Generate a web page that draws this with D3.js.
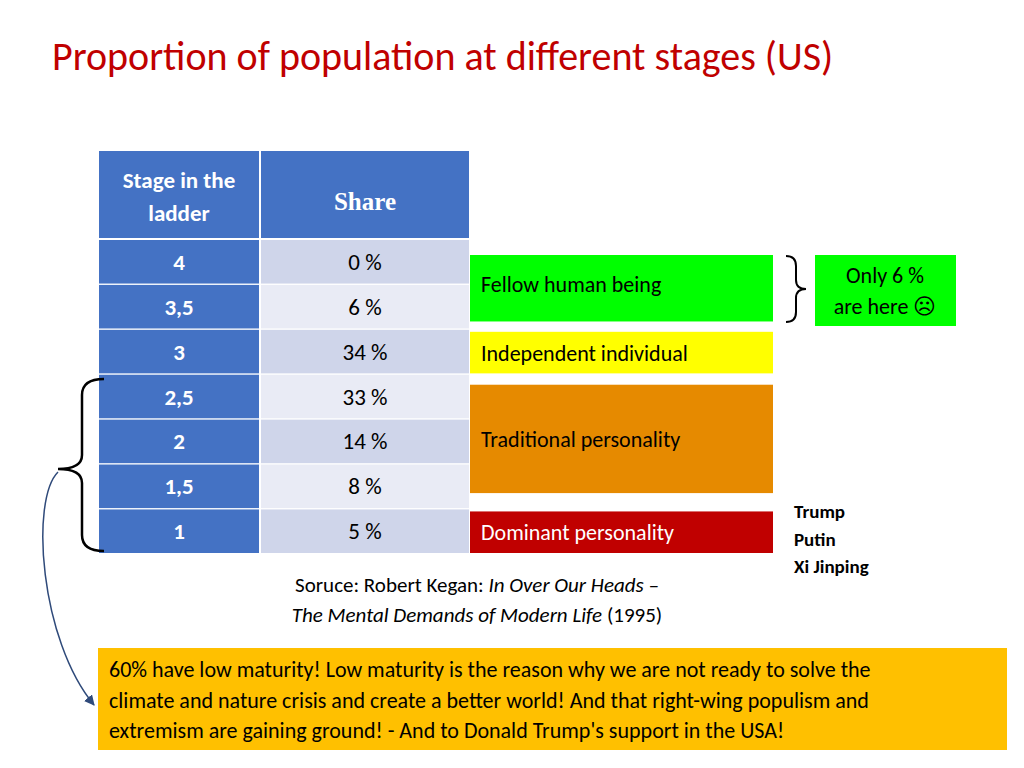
<!DOCTYPE html>
<html><head><meta charset="utf-8">
<script src="https://cdn.jsdelivr.net/npm/d3@7"></script>
<style>body{margin:0;background:#fff}svg{font-family:Carlito,Lato,"Open Sans",sans-serif}</style>
</head><body>
<svg id="c" width="1024" height="768"></svg>
<script>
var stages = ["4", "3,5", "3", "2,5", "2", "1,5", "1"];
var shares = [0, 6, 34, 33, 14, 8, 5];
var groups = [
  {name: "Fellow human being", from: 0, to: 1, color: "#00ff00"},
  {name: "Independent individual", from: 2, to: 2, color: "#ffff00"},
  {name: "Traditional personality", from: 3, to: 5, color: "#e68a00"},
  {name: "Dominant personality", from: 6, to: 6, color: "#c00000"}
];
var leaders = ["Trump", "Putin", "Xi Jinping"];

var svg = d3.select("#c");

svg.append("text").attr("x", 52).attr("y", 70).attr("fill", "#c00000")
    .style("font-size", "40px").text("Proportion of population at different stages (US)");

var y = d3.scaleBand().domain(d3.range(stages.length)).range([240, 553]).paddingInner(0.03);

// header
svg.append("rect").attr("x", 99).attr("y", 151).attr("width", 160).attr("height", 87).attr("fill", "#4472c4");
svg.append("rect").attr("x", 261).attr("y", 151).attr("width", 208).attr("height", 87).attr("fill", "#4472c4");
svg.append("text").attr("x", 179).attr("y", 188).attr("text-anchor", "middle").attr("fill", "#fff")
    .style("font-size", "23px").style("font-weight", "bold").text("Stage in the");
svg.append("text").attr("x", 179).attr("y", 221).attr("text-anchor", "middle").attr("fill", "#fff")
    .style("font-size", "23px").style("font-weight", "bold").text("ladder");
svg.append("text").attr("x", 365).attr("y", 210).attr("text-anchor", "middle").attr("fill", "#fff")
    .style("font-family", "'Liberation Serif',serif").style("font-size", "25px").style("font-weight", "bold").text("Share");

var rows = svg.selectAll("g.row").data(stages).join("g").attr("class", "row");
rows.append("rect").attr("x", 99).attr("y", (d, i) => y(i)).attr("width", 160).attr("height", y.bandwidth()).attr("fill", "#4472c4");
rows.append("rect").attr("x", 261).attr("y", (d, i) => y(i)).attr("width", 208).attr("height", y.bandwidth())
    .attr("fill", (d, i) => i % 2 ? "#e9ebf5" : "#cfd5ea");
rows.append("text").attr("x", 179).attr("y", (d, i) => y(i) + y.bandwidth() / 2 + 8).attr("text-anchor", "middle")
    .attr("fill", "#fff").style("font-size", "23px").style("font-weight", "bold").text(d => d);
rows.append("text").attr("x", 365).attr("y", (d, i) => y(i) + y.bandwidth() / 2 + 8).attr("text-anchor", "middle")
    .attr("fill", "#000").style("font-size", "23px").text((d, i) => shares[i] + " %");

// stage groups
var gg = svg.selectAll("g.grp").data(groups).join("g").attr("class", "grp");
var inset = [15, 2, 10, 2];
gg.append("rect").attr("x", 470).attr("width", 303)
    .attr("y", (d, i) => y(d.from) + inset[i])
    .attr("height", (d, i) => y(d.to) + y.bandwidth() - y(d.from) - inset[i] - (i == 0 ? 7 : i == 2 ? 15 : 0))
    .attr("fill", d => d.color);
gg.append("text").attr("x", 481)
    .attr("y", (d, i) => [292, 361, 447, 540][i])
    .attr("fill", d => d.color == "#c00000" ? "#fff" : "#000").style("font-size", "22px").text(d => d.name);

// right brace
svg.append("path").attr("d", "M786,256 Q796,256 796,266 L796,280 Q796,289 806,289 Q796,289 796,298 L796,312 Q796,322 786,322")
    .attr("fill", "none").attr("stroke", "#000").attr("stroke-width", 2);
svg.append("rect").attr("x", 815).attr("y", 255).attr("width", 141).attr("height", 71).attr("fill", "#00ff00");
svg.append("text").attr("x", 885).attr("y", 283).attr("text-anchor", "middle").style("font-size", "22px").text("Only 6 %");
svg.append("text").attr("x", 885).attr("y", 314).attr("text-anchor", "middle").style("font-size", "22px").text("are here ☹");

svg.selectAll("text.lead").data(leaders).join("text").attr("class", "lead")
    .attr("x", 794).attr("y", (d, i) => 518 + i * 27.5).style("font-size", "19px").style("font-weight", "bold").text(d => d);

// left brace
svg.append("path").attr("d", "M104,379 Q82,379 82,395 L82,455 Q82,469 58,469 Q82,469 82,483 L82,535 Q82,551 104,551")
    .attr("fill", "none").attr("stroke", "#000").attr("stroke-width", 2.5);

// source
var s1 = svg.append("text").attr("x", 477).attr("y", 592).attr("text-anchor", "middle").style("font-size", "21px");
s1.append("tspan").text("Soruce: Robert Kegan: ");
s1.append("tspan").style("font-style", "italic").text("In Over Our Heads –");
var s2 = svg.append("text").attr("x", 477).attr("y", 622).attr("text-anchor", "middle").style("font-size", "21px");
s2.append("tspan").style("font-style", "italic").text("The Mental Demands of Modern Life");
s2.append("tspan").text(" (1995)");

// bottom box
svg.append("rect").attr("x", 98).attr("y", 648).attr("width", 909).attr("height", 102).attr("fill", "#ffc000");
var lines = ["60% have low maturity! Low maturity is the reason why we are not ready to solve the",
  "climate and nature crisis and create a better world! And that right-wing populism and",
  "extremism are gaining ground! - And to Donald Trump's support in the USA!"];
svg.selectAll("text.note").data(lines).join("text").attr("class", "note")
    .attr("x", 109).attr("y", (d, i) => 677 + i * 30.5).style("font-size", "22px").text(d => d);

// arrow
svg.append("defs").append("marker").attr("id", "ah").attr("viewBox", "0 0 10 10").attr("refX", 9).attr("refY", 5)
    .attr("markerWidth", 7).attr("markerHeight", 7).attr("orient", "auto")
    .append("path").attr("d", "M0,0 L10,5 L0,10 Z").attr("fill", "#2f4a7a");
svg.append("path").attr("d", "M58,472 C30,500 40,640 94,705").attr("fill", "none")
    .attr("stroke", "#2f4a7a").attr("stroke-width", 1.5).attr("marker-end", "url(#ah)");
</script>
</body></html>
